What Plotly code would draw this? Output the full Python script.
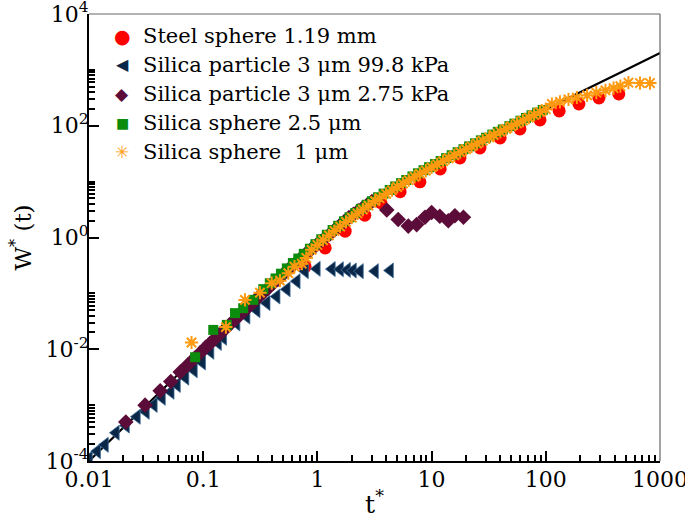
import plotly.graph_objects as go

# ---------------- data ----------------
# theory line
t_line = [0.01, 0.02, 0.05, 0.1, 0.2, 0.3, 0.5, 0.7, 1, 1.5, 2, 3, 5, 10, 20, 50, 100, 200, 500, 1000]
w_line = [1.0e-4, 4.0e-4, 2.46e-3, 9.7e-3, 0.0375, 0.0816, 0.213, 0.393, 0.736, 1.45, 2.27, 4.10,
          8.01, 18.0, 38.0, 98.0, 198, 398, 998, 1998]

# Steel sphere 1.19 mm
t_steel = [0.78, 1.17, 1.75, 2.6, 3.6, 5.3, 7.9, 11.9, 17.7, 26.5, 39.8, 59.4, 89, 131, 195, 292, 436]
w_steel = [0.30, 0.65, 1.3, 2.5, 4.2, 6.6, 9.9, 16.9, 26.5, 40, 60.6, 87.7, 127, 184, 245, 314, 371]

# Silica particle 3 um 99.8 kPa
t_sp1 = [0.010, 0.0118, 0.0138, 0.0172, 0.0211, 0.0263, 0.0315, 0.037, 0.0436, 0.052, 0.059,
         0.070, 0.083, 0.098, 0.116, 0.135, 0.15, 0.196, 0.24, 0.294, 0.36, 0.44, 0.54, 0.66,
         0.78, 0.99, 1.34, 1.58, 1.82, 2.05, 2.36, 3.2, 4.33]
w_sp1 = [1.1e-4, 1.5e-4, 1.95e-4, 3.2e-4, 4.3e-4, 6.2e-4, 7.6e-4, 1.01e-3, 1.35e-3, 1.73e-3, 2.3e-3,
         3.1e-3, 4.2e-3, 5.8e-3, 9.0e-3, 0.013, 0.016, 0.029, 0.0385, 0.05, 0.067, 0.088, 0.118, 0.165,
         0.25, 0.275, 0.272, 0.27, 0.263, 0.257, 0.25, 0.25, 0.257]

# Silica particle 3 um 2.75 kPa
t_sp2 = [0.021, 0.031, 0.042, 0.052, 0.063, 0.073, 0.084, 0.094, 0.105, 0.115, 0.126, 0.14, 0.155,
         0.17, 0.19, 0.21, 0.23, 0.25, 0.28, 0.31, 0.34, 0.37, 0.41, 0.45, 0.50, 0.55, 0.60, 0.66,
         0.73, 0.80, 0.88, 0.97, 1.07, 1.17, 1.29, 1.42, 1.56, 1.71, 1.88, 2.07, 2.28, 2.5, 2.75, 3.0,
         4.05, 5.1, 6.25, 7.4, 8.75, 10.0, 11.8, 14.0, 16.0, 19.0]
w_sp2 = [5.0e-4, 1.0e-3, 1.8e-3, 2.65e-3, 3.9e-3, 5.2e-3, 6.9e-3, 8.6e-3, 0.0108, 0.0128, 0.0153,
         0.0188, 0.0229, 0.0275, 0.034, 0.0413, 0.0493, 0.058, 0.072, 0.088, 0.105, 0.123, 0.15,
         0.178, 0.218, 0.26, 0.305, 0.365, 0.44, 0.52, 0.61, 0.72, 0.85, 0.99, 1.16, 1.38, 1.62, 1.9,
         2.25, 2.6, 3.0, 3.4, 3.9, 4.4,
         3.1, 2.1, 1.6, 1.7, 2.3, 2.8, 2.4, 2.0, 2.45, 2.3]

# Silica sphere 2.5 um
t_ss25 = [0.085, 0.1225, 0.161, 0.19, 0.224, 0.275, 0.336, 0.383, 0.43, 0.48, 0.54, 0.61, 0.68,
          0.76, 0.86, 0.96, 1.08, 1.21, 1.36, 1.52, 1.71, 1.91, 2.15, 2.4, 2.7, 3.0, 3.4, 3.8, 4.3,
          4.8, 5.4, 6.0, 6.8, 7.6, 8.5, 9.5, 10.7, 12, 13.4, 15, 16.9, 19, 21.3, 24, 27, 30, 34, 38,
          42, 48, 53, 60, 67, 75, 84, 94]
w_ss25 = [7.2e-3, 0.0222, 0.0273, 0.0443, 0.0543, 0.0766, 0.119, 0.152, 0.185, 0.225, 0.28, 0.35,
          0.42, 0.51, 0.63, 0.76, 0.93, 1.12, 1.36, 1.62, 1.95, 2.3, 2.75, 3.25, 3.85, 4.45, 5.25,
          6.1, 7.1, 8.2, 9.4, 10.7, 12.4, 14.1, 16, 18.1, 20.6, 23.4, 26.3, 29.7, 33.6, 38, 42.8,
          48.5, 54.8, 61, 69.5, 77.8, 86, 98.5, 109, 123, 138, 154, 172, 192]

# Silica sphere 1 um
t_ss1 = [0.079, 0.158, 0.232, 0.314, 0.398, 0.47, 0.556, 0.63, 0.73, 0.80, 0.89, 1.0, 1.12, 1.26,
         1.41, 1.58, 1.78, 2.0, 2.24, 2.5, 2.8, 3.2, 3.5, 4.0, 4.5, 5.0, 5.6, 6.3, 7.1, 7.9, 8.9, 10,
         11.2, 12.6, 14.1, 15.8, 17.8, 20, 22.4, 25, 28, 32, 35, 40, 45, 50, 56, 63, 71, 79, 89, 100,
         113, 133, 158, 187, 230, 277, 333, 392, 450, 529, 668, 817]
w_ss1 = [0.0132, 0.0249, 0.0765, 0.103, 0.152, 0.169, 0.23, 0.30, 0.34, 0.43, 0.601, 0.736, 0.893,
         1.087, 1.308, 1.572, 1.897, 2.271, 2.693, 3.164, 3.722, 4.482, 5.06, 6.037, 7.022, 8.013,
         9.207, 10.6, 12.2, 13.8, 15.8, 18.0, 20.4, 23.2, 26.2, 29.6, 33.6, 38, 42.8, 48, 54, 62, 68,
         78, 88, 98, 110, 124, 140, 156, 176, 198,
         245, 268, 295, 320, 350, 390, 430, 470, 510, 590, 580, 580]

series_names = ["Steel sphere 1.19 mm",
                "Silica particle 3 \u03bcm 99.8 kPa",
                "Silica particle 3 \u03bcm 2.75 kPa",
                "Silica sphere 2.5 \u03bcm",
                "Silica sphere\u00a0 1 \u03bcm"]

x_tickvals = [0.01, 0.1, 1, 10, 100, 1000]
x_ticktext = ["0.01", "0.1", "1", "10", "100", "1000"]
y_tickvals = [1e-4, 1e-2, 1, 1e2, 1e4]
y_ticktext = ["10<sup>-4</sup>", "10<sup>-2</sup>", "10<sup>0</sup>", "10<sup>2</sup>", "10<sup>4</sup>"]

# ---------------- styles ----------------
FONT = "DejaVu Serif"
colors = ["#ff0000", "#0b2747", "#5c0c38", "#0c8c0c", "#ff9a10"]
legend_glyphs = ["\u25cf", "\u25c0", "\u25c6", "\u25a0", "<b>\u2733</b>"]
legend_glyph_sizes = [19, 16, 17, 14, 17]

fig = go.Figure()
fig.add_trace(go.Scatter(x=t_line, y=w_line, mode="lines", line=dict(color="black", width=2.2),
                         showlegend=False, hoverinfo="skip"))
fig.add_trace(go.Scatter(x=t_steel, y=w_steel, mode="markers", name=series_names[0],
                         marker=dict(symbol="circle", size=13, color=colors[0])))
fig.add_trace(go.Scatter(x=t_sp1, y=w_sp1, mode="markers", name=series_names[1],
                         marker=dict(symbol="triangle-left", size=13, color=colors[1],
                                     line=dict(color="#3f6d99", width=0.8))))
fig.add_trace(go.Scatter(x=t_sp2, y=w_sp2, mode="markers", name=series_names[2],
                         marker=dict(symbol="diamond", size=12, color=colors[2])))
fig.add_trace(go.Scatter(x=t_ss25, y=w_ss25, mode="markers", name=series_names[3],
                         marker=dict(symbol="square", size=10, color=colors[3])))
fig.add_trace(go.Scatter(x=t_ss1, y=w_ss1, mode="markers", name=series_names[4],
                         marker=dict(symbol="asterisk", size=11, color=colors[4],
                                     line=dict(color=colors[4], width=2))))

annotations = []
row_px = [36, 65, 94, 123, 152]
plot_top, plot_h, plot_left, plot_w = 14, 447, 89, 571
for i, name in enumerate(series_names):
    yp = 1 - (row_px[i] - plot_top) / plot_h
    annotations.append(dict(xref="paper", yref="paper", x=(122 - plot_left) / plot_w, y=yp,
                            xanchor="center", yanchor="middle", showarrow=False,
                            text=legend_glyphs[i],
                            font=dict(family="DejaVu Sans", size=legend_glyph_sizes[i], color=colors[i])))
    annotations.append(dict(xref="paper", yref="paper", x=(141 - plot_left) / plot_w, y=yp,
                            xanchor="left", yanchor="middle", showarrow=False, text=name,
                            font=dict(family=FONT, size=21, color="black")))

minor_x = [k * 10.0 ** n for n in range(-2, 3) for k in range(2, 10)]
minor_y = [k * 10.0 ** n for n in (-4, -2, 0, 2) for k in range(2, 11)]

fig.update_layout(
    width=685, height=523,
    margin=dict(l=plot_left, r=685 - plot_left - plot_w, t=plot_top, b=523 - plot_top - plot_h),
    paper_bgcolor="white", plot_bgcolor="white",
    font=dict(family=FONT, size=22, color="black"),
    showlegend=False,
    annotations=annotations,
    xaxis=dict(type="log", range=[-2, 3], showgrid=False, zeroline=False, automargin=False,
               showline=True, linecolor="black", linewidth=2, mirror=False,
               ticks="inside", ticklen=10, tickwidth=1.5, tickcolor="black",
               tickvals=x_tickvals, ticktext=x_ticktext, ticklabeloverflow="allow",
               ticklabelstandoff=-2,
               tickfont=dict(family=FONT, size=22),
               minor=dict(tickvals=minor_x, ticks="inside", ticklen=6, tickwidth=1.5,
                          tickcolor="black", showgrid=False),
               title=dict(text="t<sup>*</sup>", font=dict(family=FONT, size=25), standoff=4)),
    yaxis=dict(type="log", range=[-4, 4], showgrid=False, zeroline=False, automargin=False,
               showline=True, linecolor="black", linewidth=2, mirror=False,
               ticks="inside", ticklen=10, tickwidth=1.5, tickcolor="black",
               tickvals=y_tickvals, ticktext=y_ticktext, ticklabeloverflow="allow",
               ticklabelstandoff=-6,
               tickfont=dict(family=FONT, size=22),
               minor=dict(tickvals=minor_y, ticks="inside", ticklen=6, tickwidth=1.5,
                          tickcolor="black", showgrid=False),
               title=dict(text="W<sup>*</sup> (t)", font=dict(family=FONT, size=23), standoff=8)),
    shapes=[
        dict(type="line", xref="paper", yref="paper", x0=0, x1=1, y0=1, y1=1,
             line=dict(color="#666666", width=1.2)),
        dict(type="line", xref="paper", yref="paper", x0=1, x1=1, y0=0, y1=1,
             line=dict(color="#666666", width=1.2)),
    ],
)

fig.write_html("out.html", config={"displayModeBar": False},
               post_script="document.body.style.margin='0';")
